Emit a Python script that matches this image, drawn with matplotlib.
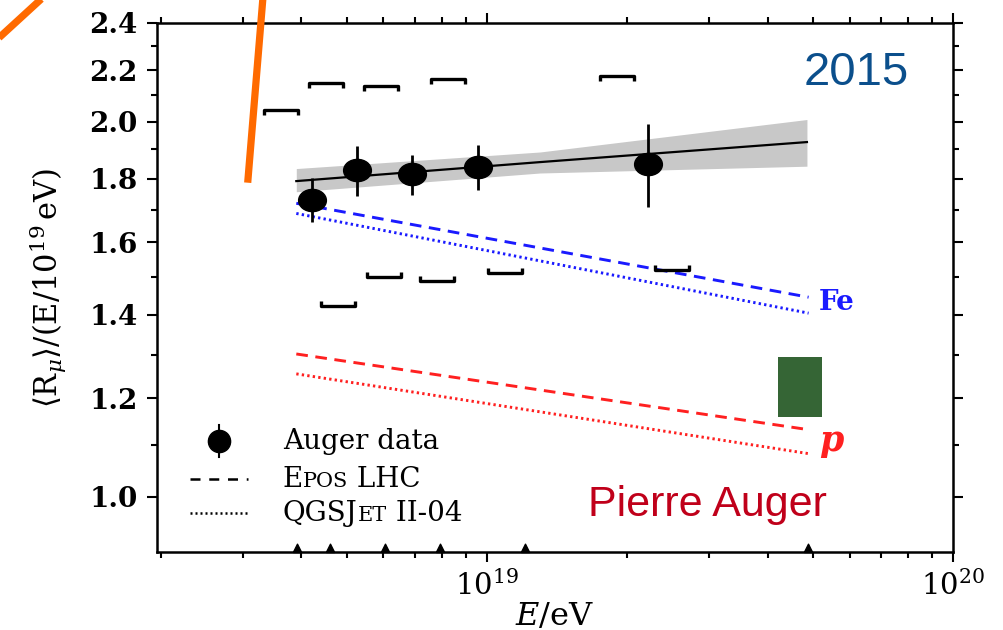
import numpy as np
import matplotlib.pyplot as plt
from matplotlib.path import Path
from matplotlib.lines import Line2D
from matplotlib.transforms import Affine2D
from matplotlib.ticker import FixedLocator, FormatStrFormatter, NullFormatter, LogLocator
from matplotlib.offsetbox import TextArea, HPacker, AnchoredOffsetbox

plt.rcParams['font.family'] = ['DejaVu Serif']
plt.rcParams['mathtext.fontset'] = 'dejavuserif'

# Auger data points
E_data = [4.205e18, 5.253e18, 6.893e18, 9.566e18, 2.219e19]
R_data = [1.730, 1.828, 1.814, 1.839, 1.849]
R_err_lo = [0.069, 0.085, 0.068, 0.077, 0.142]
R_err_hi = [0.072, 0.083, 0.066, 0.075, 0.141]

# systematic brackets (upper and lower)
sys_hi_E = [3.61e18, 4.51e18, 5.92e18, 8.25e18, 1.901e19]
sys_hi = [2.042, 2.148, 2.135, 2.165, 2.178]
sys_lo_E = [4.80e18, 6.01e18, 7.83e18, 1.096e19, 2.494e19]
sys_lo = [1.423, 1.502, 1.490, 1.511, 1.520]

# power-law fit and its uncertainty band
fit_E = [3.9e18, 1.3e19, 4.86e19]
fit_R = [1.792, 1.856, 1.926]
band_lo = [1.757, 1.819, 1.842]
band_hi = [1.834, 1.891, 2.008]

# air shower model predictions
model_E = [3.9e18, 4.9e19]
epos_Fe = [1.720, 1.446]
qgs_Fe = [1.688, 1.404]
epos_p = [1.302, 1.132]
qgs_p = [1.255, 1.083]

# energy bin edges
bin_E = [3.91e18, 4.6e18, 6.04e18, 7.93e18, 1.21e19, 4.89e19]

# green box
box_E = [4.21e19, 5.24e19]
box_R = [1.159, 1.295]

yticks = [1.0, 1.2, 1.4, 1.6, 1.8, 2.0, 2.2, 2.4]
yminor = [1.1, 1.3, 1.5, 1.7, 1.9, 2.1, 2.3]

fig = plt.figure(figsize=(10.04, 6.30), dpi=100)
ax = fig.add_axes([0.1564, 0.1238, 0.7928, 0.8397])
ax.set_xscale('log')
ax.set_yscale('log')
ax.set_xlim(1.96e18, 1e20)
ax.set_ylim(0.903, 2.4)

# fit band + line
ax.fill_between(fit_E, band_lo, band_hi, color='#c8c8c8', lw=0, zorder=1)
ax.plot(fit_E, fit_R, color='black', lw=1.6, zorder=2)

# models
blue, red = '#1a1aff', '#ff2020'
ax.plot(model_E, epos_Fe, color=blue, ls=(0, (4, 2.6)), lw=2.1)
ax.plot(model_E, qgs_Fe, color=blue, ls=(0, (0.8, 1.1)), lw=2.1)
ax.plot(model_E, epos_p, color=red, ls=(0, (4, 2.6)), lw=2.1)
ax.plot(model_E, qgs_p, color=red, ls=(0, (0.8, 1.1)), lw=2.1)
ax.text(5.15e19, 1.433, 'Fe', color=blue, fontsize=20, fontweight='bold',
        ha='left', va='center')
ax.text(5.15e19, 1.108, 'p', color=red, fontsize=25, fontweight='bold',
        fontstyle='italic', ha='left', va='center')

# bracket markers
hi_path = Path([(-1, -0.3), (-1, 0), (1, 0), (1, -0.3)])
lo_path = Path([(-1, 0.3), (-1, 0), (1, 0), (1, 0.3)])
ax.plot(sys_hi_E, sys_hi, ls='none', marker=hi_path, ms=25, mfc='none',
        mec='black', mew=2.4)
ax.plot(sys_lo_E, sys_lo, ls='none', marker=lo_path, ms=25, mfc='none',
        mec='black', mew=2.4)

# data points
ellipse = Path.unit_circle().transformed(Affine2D().scale(1.0, 0.8))
ax.errorbar(E_data, R_data, yerr=[R_err_lo, R_err_hi], fmt='none',
            ecolor='black', elinewidth=2.0, capsize=0, zorder=4)
ax.plot(E_data, R_data, ls='none', marker=ellipse, ms=20, color='black', zorder=5)

# bin edge triangles on the bottom axis
tri = Path([(-0.5, 0), (0.5, 0), (0, 1), (-0.5, 0)])
ax.plot(bin_E, [ax.get_ylim()[0]] * len(bin_E), ls='none', marker=tri, ms=12,
        color='black', clip_on=False, zorder=6)

ax.fill_between(box_E, box_R[0], box_R[1], color='#356535', lw=0, zorder=3)

# axes styling
ax.yaxis.set_major_locator(FixedLocator(yticks))
ax.yaxis.set_minor_locator(FixedLocator(yminor))
ax.yaxis.set_major_formatter(FormatStrFormatter('%.1f'))
ax.yaxis.set_minor_formatter(NullFormatter())
ax.xaxis.set_minor_locator(LogLocator(base=10, subs=np.arange(2, 10)))
ax.xaxis.set_minor_formatter(NullFormatter())
for s in ax.spines.values():
    s.set_linewidth(1.8)
ax.tick_params(which='both', direction='out', top=True, right=True, width=1.5)
ax.tick_params(which='major', length=7)
ax.tick_params(which='minor', length=4)
ax.tick_params(axis='y', labelsize=20, pad=7)
ax.tick_params(axis='x', labelsize=21, pad=6)
for lab in ax.get_yticklabels():
    lab.set_fontweight('bold')

ax.set_xlabel(r'$E/\mathrm{eV}$', fontsize=23, labelpad=0)
ax.set_ylabel(r'$\langle \mathrm{R}_{\mu}\rangle/(\mathrm{E}/10^{19}\,\mathrm{eV})$',
              fontsize=22, labelpad=15)

# legend
lx = 0.078
ax.plot([lx], [0.2098], transform=ax.transAxes, marker='o', ms=16, color='black',
        clip_on=False)
ax.plot([lx, lx], [0.2098 - 0.03, 0.2098 + 0.03], transform=ax.transAxes,
        color='black', lw=1.5)
ax.plot([0.0415, 0.1143], [0.138, 0.138], transform=ax.transAxes, color='black',
        ls=(0, (4, 3.5)), lw=1.8)
ax.plot([0.0415, 0.1143], [0.0737, 0.0737], transform=ax.transAxes, color='black',
        ls=(0, (0.8, 1.2)), lw=1.8)


def text_row(parts, y):
    boxes = [TextArea(s, textprops=dict(fontsize=sz, color='black')) for s, sz in parts]
    row = HPacker(children=boxes, align='baseline', pad=0, sep=0)
    ab = AnchoredOffsetbox(loc='center left', child=row, pad=0, borderpad=0,
                           frameon=False, bbox_to_anchor=(0.158, y),
                           bbox_transform=ax.transAxes)
    ax.add_artist(ab)


text_row([('Auger data', 20)], 0.2098)
text_row([('E', 20), ('POS', 15), (' LHC', 20)], 0.138)
text_row([('QGSJ', 20), ('ET', 15), (' II-04', 20)], 0.0737)

# annotations
ax.text(0.879, 0.9055, '2015', transform=ax.transAxes, fontsize=34,
        family='Liberation Sans', color='#0b4f8c', ha='center', va='center')
ax.text(0.691, 0.0888, 'Pierre Auger', transform=ax.transAxes, fontsize=31,
        family='Liberation Sans', color='#c0001a', ha='center', va='center')

# orange strokes across the top-left corner
fig.add_artist(Line2D([-10 / 1004, 50 / 1004], [1 - 46 / 630, 1 + 9 / 630],
                      transform=fig.transFigure, color='#ff6a00', lw=5.2,
                      solid_capstyle='butt'))
fig.add_artist(Line2D([263 / 1004, 247.7 / 1004], [1 + 3 / 630, 1 - 182.7 / 630],
                      transform=fig.transFigure, color='#ff6a00', lw=5.2,
                      solid_capstyle='butt'))

fig.savefig('out.png', dpi=100)
